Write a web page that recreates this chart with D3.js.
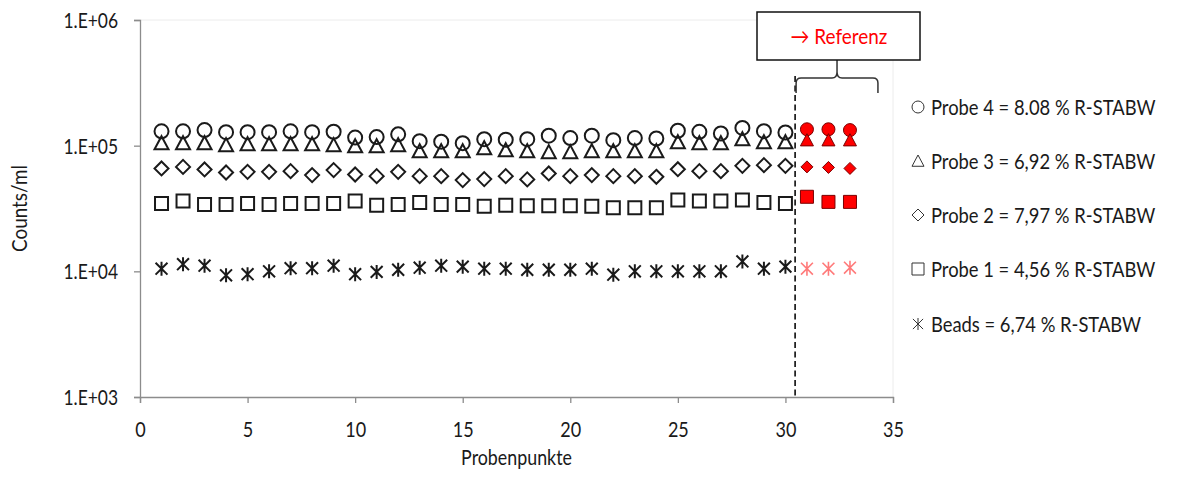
<!DOCTYPE html>
<html><head><meta charset="utf-8">
<script src="https://cdn.jsdelivr.net/npm/d3@7"></script>
<style>
html,body{margin:0;padding:0;background:#fff;}
svg{display:block;}
text{font-family:Lato,"Open Sans",sans-serif;fill:#1a1a1a;}
</style></head>
<body>
<svg id="chart" width="1183" height="482"></svg>
<script>
// ---- data ----
const samplePoints = d3.range(1, 34);
const refStart = 31;
const probe4 = [130000,130000,133000,128000,128000,128000,130000,128000,129000,116000,117000,123000,108600,107600,104700,112600,111600,112600,120000,115000,120000,110600,115000,114000,131500,128800,125000,138500,130400,127300,135000,135000,133000];
const probe3 = [104700,104700,104700,101000,102800,102800,102800,102800,101000,99100,99100,101000,90400,90400,90400,95500,92100,90400,88800,88800,90400,90400,90400,90400,106600,104700,104700,112600,106600,106600,110600,110600,110600];
const probe2 = [65900,67800,64700,61200,61900,61900,62700,58300,63900,59000,57200,61900,57200,57200,53200,54200,57200,53900,60100,57200,58300,57200,57200,56500,65000,62700,62700,69100,70000,69100,67800,67100,65900];
const probe1 = [34700,36200,34100,34100,34700,34100,34700,34700,34700,36200,33600,34100,35300,34100,34100,33000,33600,33200,33200,33200,33000,32000,32000,32000,36900,36200,36200,36900,35300,34700,39200,35700,35700];
const beads = [10500,11400,11100,9300,9500,10000,10600,10600,11100,9500,9900,10300,10700,11100,10900,10500,10500,10300,10300,10300,10500,9400,10000,10000,10000,10000,10000,12000,10500,10900,10500,10500,10700];
const legendLabels = ["Probe 4 = 8.08 % R-STABW","Probe 3 = 6,92 % R-STABW","Probe 2 = 7,97 % R-STABW","Probe 1 = 4,56 % R-STABW","Beads = 6,74 % R-STABW"];
const yTickValues = [1e3, 1e4, 1e5, 1e6];
const yTickLabels = ["1.E+03","1.E+04","1.E+05","1.E+06"];
const xTickValues = [0,5,10,15,20,25,30,35];
const refLabel = "\u2192 Referenz";
const xTitle = "Probenpunkte";
const yTitle = "Counts/ml";

// narrow (Calibri-like) text by horizontal scaling
function squeezeTick(sel, k) {
  sel.each(function() {
    const t = d3.select(this);
    const x0 = +t.attr("x") || 0;
    t.attr("x", x0 / k).attr("transform", `scale(${k},1)`);
  });
}
function label(px, py, str, size, k, extra) {
  return svg.append("text")
    .attr("transform", `translate(${px},${py})${extra || ""} scale(${k},1)`)
    .attr("font-size", size).text(str);
}

// ---- layout ----
const svg = d3.select("#chart");
const L = 140, R = 893, T = 20, B = 397;
const x = d3.scaleLinear().domain([0, 35]).range([L, R]);
const y = d3.scaleLog().domain([1e3, 1e6]).range([B, T]);

// faint plot border
svg.append("path").attr("d", `M${L},${T}H${R}V${B}`).attr("fill","none").attr("stroke","#ececec").attr("stroke-width",1);

// axes
const axisCol = "#8c8c8c";
const gy = svg.append("g").attr("transform", `translate(${L},0)`)
  .call(d3.axisLeft(y).tickValues(yTickValues).tickFormat((d,i)=>yTickLabels[i]).tickSize(6).tickPadding(16));
const gx = svg.append("g").attr("transform", `translate(0,${B})`)
  .call(d3.axisBottom(x).tickValues(xTickValues).tickSize(6).tickPadding(19));
[gy, gx].forEach(g => {
  g.select(".domain").attr("stroke", axisCol).attr("stroke-width", 1.3);
  g.selectAll(".tick line").attr("stroke", axisCol).attr("stroke-width", 1.3);
  g.selectAll(".tick text").attr("font-family","Lato, sans-serif").attr("font-size", 20.5).attr("fill","#1a1a1a");
});
gy.selectAll(".tick text").attr("dy","0.36em");
squeezeTick(gy.selectAll(".tick text"), 0.85);
squeezeTick(gx.selectAll(".tick text"), 0.88);

label((L+R)/2, 465, xTitle, 20.5, 0.87).attr("text-anchor","middle");
label(27, (T+B)/2, yTitle, 20.5, 0.92, " rotate(-90)").attr("text-anchor","middle");

// ---- marker shapes ----
const shapes = {
  circle: r => `M${-r},0A${r},${r} 0 1,0 ${r},0A${r},${r} 0 1,0 ${-r},0Z`,
  triangle: r => `M0,${-r}L${r},${r*0.88}L${-r},${r*0.88}Z`,
  diamond: r => `M0,${-r}L${r},0L0,${r}L${-r},0Z`,
  square: r => `M${-r},${-r}H${r}V${r}H${-r}Z`,
  star: r => `M0,${-r}V${r}M${-r*0.85},${-r*0.85}L${r*0.85},${r*0.85}M${-r*0.85},${r*0.85}L${r*0.85},${-r*0.85}`
};
const series = [
  {vals: probe4, shape: "circle", r: 7, rr: 6.5},
  {vals: probe3, shape: "triangle", r: 7, rr: 6.5},
  {vals: probe2, shape: "diamond", r: 7, rr: 6},
  {vals: probe1, shape: "square", r: 6.5, rr: 6.5},
  {vals: beads, shape: "star", r: 7, rr: 7}
];
series.forEach(s => {
  svg.append("g").selectAll("path").data(s.vals).join("path")
    .attr("transform", (d,i) => `translate(${x(samplePoints[i])},${y(d)})`)
    .attr("d", (d,i) => shapes[s.shape](samplePoints[i] >= refStart ? s.rr : s.r))
    .attr("fill", (d,i) => (samplePoints[i] >= refStart && s.shape !== "star") ? "#ff0000" : "none")
    .attr("stroke", (d,i) => samplePoints[i] >= refStart ? (s.shape === "star" ? "#ff7a7a" : "#7a0000") : "#1a1a1a")
    .attr("stroke-width", (d,i) => samplePoints[i] >= refStart ? (s.shape === "star" ? 1.6 : 1) : 2);
});

// ---- reference annotation ----
const xd = x(30.45);
svg.append("line").attr("x1", xd).attr("x2", xd).attr("y1", 76).attr("y2", B)
  .attr("stroke","#1a1a1a").attr("stroke-width",1.7).attr("stroke-dasharray","6,3.5");
const bl = xd + 1, br = x(34.3), bc = (bl+br)/2;
svg.append("path").attr("fill","none").attr("stroke","#333").attr("stroke-width",1.5)
  .attr("d", `M${bl},93V83Q${bl},78 ${bl+5},78H${bc-5}Q${bc},78 ${bc},72V60M${br},93V83Q${br},78 ${br-5},78H${bc+5}Q${bc},78 ${bc},72`);
svg.append("rect").attr("x",757).attr("y",12).attr("width",163).attr("height",48)
  .attr("fill","#fff").attr("stroke","#111").attr("stroke-width",1.5);
label(839, 44, refLabel, 21.5, 0.88).attr("text-anchor","middle").style("fill","#ff0000");

// ---- legend ----
const legY = [107, 161, 215, 269, 324];
const legShapes = ["circle","triangle","diamond","square","star"];
legendLabels.forEach((lab, i) => {
  svg.append("path").attr("transform", `translate(918,${legY[i]})`).attr("d", shapes[legShapes[i]](6))
    .attr("fill","none").attr("stroke","#333").attr("stroke-width",1);
  label(931, legY[i], lab, 21, 0.875).attr("dy","0.36em");
});
</script>
</body></html>
